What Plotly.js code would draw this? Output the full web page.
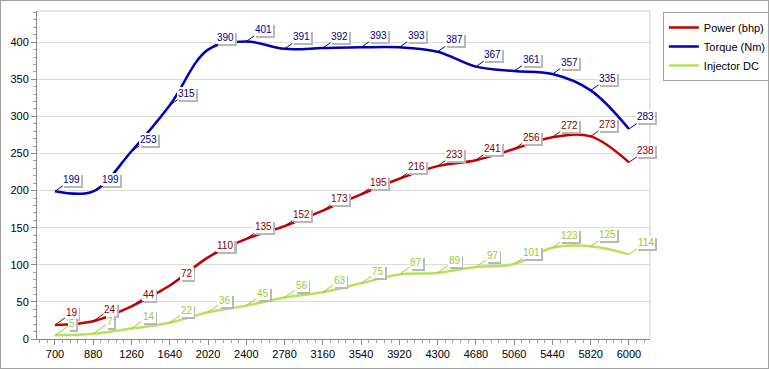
<!DOCTYPE html>
<html><head><meta charset="utf-8">
<script src="https://cdn.plot.ly/plotly-3.0.1.min.js"></script>
<style>
html,body{margin:0;padding:0;background:#fff;}
#frame{position:absolute;left:0;top:0;width:767px;height:367px;border:1px solid #a0a0a0;}
#chart{width:767px;height:367px;}
</style></head>
<body><div id="frame"><div id="chart"></div></div>
<script>
const rpm = ['700','880','1260','1640','2020','2400','2780','3160','3540','3920','4300','4680','5060','5440','5820','6000'];
const power = [19,24,44,72,110,135,152,173,195,216,233,241,256,272,273,238];
const torque = [199,199,253,315,390,401,391,392,393,393,387,367,361,357,335,283];
const injector = [5,7,14,22,36,45,56,63,75,87,89,97,101,123,125,114];
const names = ['Power (bhp)','Torque (Nm)','Injector DC'];

const FONT = 'Liberation Sans, Arial, sans-serif';
const xIdx = rpm.map((r,i)=>i);

const series = [
  {vals: power, name: names[0], line:'#c80000', text:'#8b0000'},
  {vals: torque, name: names[1], line:'#0000b4', text:'#000080'},
  {vals: injector, name: names[2], line:'#b4e35e', text:'#99cc33'}
];

const traces = series.map(s => ({
  x: xIdx, y: s.vals, name: s.name, type:'scatter', mode:'lines',
  line:{color:s.line, width:2.5, shape:'spline', smoothing:1}
}));

const shadows = [], mains = [];
series.forEach(s => {
  s.vals.forEach((v,i) => {
    const txt = String(v);
    const base = {x: xIdx[i], y: v, xref:'x', yref:'y',
      showarrow:true, ax:17, ay:-12, axref:'pixel', ayref:'pixel',
      arrowhead:0, arrowwidth:1, standoff:0, borderpad:1, borderwidth:0};
    shadows.push(Object.assign({}, base, {text: '\u2007'.repeat(txt.length), xshift:2, yshift:-2,
      arrowcolor:'rgba(0,0,0,0)', bgcolor:'#b8b8b8',
      font:{family:FONT, size:10, color:'rgba(0,0,0,0)'}}));
    mains.push(Object.assign({}, base, {text: txt, arrowcolor:s.text, bgcolor:'#ffffff',
      font:{family:FONT, size:10, color:s.text}}));
  });
});

const layout = {
  width:767, height:367,
  margin:{l:36, r:118, t:10, b:29, autoexpand:false},
  paper_bgcolor:'#ffffff', plot_bgcolor:'#ffffff',
  font:{family:FONT, size:11, color:'#000'},
  showlegend:true,
  legend:{x:1.021, y:0.997, xanchor:'left', yanchor:'top',
    bgcolor:'#ffffff', bordercolor:'#a0a0a0', borderwidth:1,
    font:{family:FONT, size:11, color:'#000'}, itemwidth:30, tracegroupgap:0},
  xaxis:{range:[-0.47,15.55], tickmode:'array', tickvals:xIdx, ticktext:rpm,
    showgrid:false, zeroline:false, showline:true, linecolor:'#8a8a8a', linewidth:1,
    ticks:'outside', ticklen:5, tickcolor:'#8a8a8a',
    minor:{dtick:0.2, tick0:0, ticks:'outside', ticklen:3, tickcolor:'#a0a0a0', showgrid:false},
    tickfont:{family:FONT, size:11, color:'#000'}, fixedrange:true, automargin:false},
  yaxis:{range:[0,442], dtick:50, tick0:0, showgrid:true, gridcolor:'#dcdcdc',
    zeroline:false, showline:true, linecolor:'#8a8a8a', linewidth:1,
    ticks:'outside', ticklen:5, tickcolor:'#8a8a8a',
    minor:{dtick:10, ticks:'outside', ticklen:3, tickcolor:'#a0a0a0', showgrid:false},
    tickfont:{family:FONT, size:11, color:'#000'}, fixedrange:true, automargin:false},
  shapes:[
    {type:'line', xref:'paper', yref:'paper', x0:0, x1:1, y0:1, y1:1, line:{color:'#cfcfcf', width:1}},
    {type:'line', xref:'paper', yref:'paper', x0:1, x1:1, y0:0, y1:1, line:{color:'#cfcfcf', width:1}}
  ],
  annotations: shadows.concat(mains)
};

Plotly.newPlot('chart', traces, layout, {staticPlot:true, displayModeBar:false});
</script>
</body></html>
